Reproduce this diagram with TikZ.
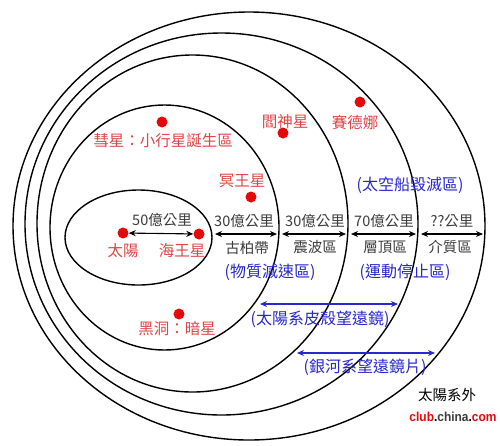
\documentclass[tikz,border=0pt]{standalone}
\usepackage{fontspec}
\usepackage{tikz}
\usetikzlibrary{arrows.meta}
\newfontfamily\cjk{Noto Sans CJK TC}
\newfontfamily\wmfont{Liberation Sans}
\definecolor{dotred}{RGB}{228,10,10}
\definecolor{lblred}{RGB}{222,70,70}
\definecolor{lblblue}{RGB}{40,40,205}
\definecolor{lblgray}{RGB}{60,60,60}
\tikzset{
  orbit/.style={line width=1.4pt},
  dot/.style={circle,fill=dotred,inner sep=0pt,minimum size=11pt},
  redlbl/.style={text=lblred,font=\cjk\fontsize{15.5}{17}\selectfont,inner sep=0pt},
  graylbl/.style={text=lblgray,font=\cjk\fontsize{14.5}{16}\selectfont,inner sep=0pt},
  bluelbl/.style={text=lblblue,font=\cjk\fontsize{16}{18}\selectfont,inner sep=0pt},
  span/.style={{Stealth[length=7pt,width=6pt]}-{Stealth[length=7pt,width=6pt]},line width=1.1pt},
  bluespan/.style={span,draw=lblblue}
}
\begin{document}
\begin{tikzpicture}[x=1pt,y=-1pt]
\useasboundingbox[fill=white] (0,0) rectangle (500,445);
\draw[orbit] (138.5,237.5) ellipse [x radius=73.5pt, y radius=47.5pt]; % inner
\draw[orbit] (164.5,227.5) ellipse [x radius=114.5pt, y radius=122.5pt]; % kuiper
\draw[orbit] (192.5,223.5) ellipse [x radius=155.5pt, y radius=168.5pt]; % shock
\draw[orbit] (221.5,224) ellipse [x radius=196.5pt, y radius=191pt]; % helio
\draw[orbit] (249,226) ellipse [x radius=236pt, y radius=214pt]; % medium
\node[dot] (sun) at (123,233) {}; % Sun
\node[redlbl] (sunlbl) at (123,251) {太陽};
\node[dot] (neptune) at (199,234) {}; % Neptune
\node[redlbl] (neptunelbl) at (182,251) {海王星};
\node[dot] (comet) at (162,122) {}; % comet
\node[redlbl] (cometlbl) at (163,141) {彗星：小行星誕生區};
\node[dot] (pluto) at (251,197) {}; % Pluto
\node[redlbl] (plutolbl) at (242,181) {冥王星};
\node[dot] (eris) at (283,133) {}; % Eris
\node[redlbl] (erislbl) at (285,122) {閻神星};
\node[dot] (sedna) at (360,102) {}; % Sedna
\node[redlbl] (sednalbl) at (355,123) {賽德娜};
\node[dot] (hole) at (179,314) {}; % black hole
\node[redlbl] (holelbl) at (177,329) {黑洞：暗星};
\draw[span] (sun) -- (neptune); % 50
\node[graylbl] (d50) at (162,220) {50億公里};
\coordinate (kb-l) at (215,234); \coordinate (kb-r) at (277,234);
\coordinate (sw-l) at (282,234); \coordinate (sw-r) at (346,234);
\coordinate (hp-l) at (351,234); \coordinate (hp-r) at (416,234);
\coordinate (im-l) at (421,234); \coordinate (im-r) at (483,234);
\draw[span] (kb-l) -- (kb-r); % kuiper
\node[graylbl] (d30a) at (244,221) {30億公里};
\node[graylbl] (kuiper) at (247,248) {古柏帶};
\draw[span] (sw-l) -- (sw-r); % shock
\node[graylbl] (d30b) at (315,221) {30億公里};
\node[graylbl] (shock) at (315,247) {震波區};
\draw[span] (hp-l) -- (hp-r); % helio
\node[graylbl] (d70) at (384,221) {70億公里};
\node[graylbl] (helio) at (385,247) {層頂區};
\draw[span] (im-l) -- (im-r); % medium
\node[graylbl] (dqq) at (452,221) {??公里};
\node[graylbl] (medium) at (450,247) {介質區};
\node[bluelbl] (slow) at (270,272) {(物質減速區)};
\node[bluelbl] (stop) at (405,272) {(運動停止區)};
\node[bluelbl] (wreck) at (410,185) {(太空船毀滅區)};
\coordinate (shell-l) at (260,304); \coordinate (shell-r) at (398,304);
\draw[bluespan] (shell-l) -- (shell-r); % shell scope
\node[bluelbl] (shell) at (320,319) {(太陽系皮殼望遠鏡)};
\coordinate (galaxy-l) at (297,353); \coordinate (galaxy-r) at (435,353);
\draw[bluespan] (galaxy-l) -- (galaxy-r); % galaxy scope
\node[bluelbl] (galaxy) at (365,367) {(銀河系望遠鏡片)};
\node[graylbl,text=black] (outside) at (447,395) {太陽系外};
\node[inner sep=0pt,font=\wmfont\bfseries\fontsize{13}{14}\selectfont,xscale=0.92] (mark) at (453,417) {\textcolor{dotred}{club}.\textcolor{lblgray}{china}.\textcolor{dotred}{com}};
\end{tikzpicture}
\end{document}
